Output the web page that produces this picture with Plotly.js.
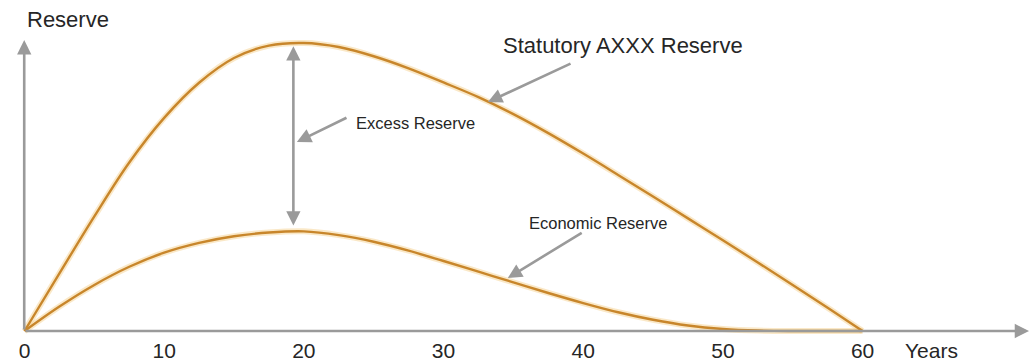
<!DOCTYPE html>
<html>
<head>
<meta charset="utf-8">
<script src="https://cdn.plot.ly/plotly-3.0.1.min.js"></script>
<style>
html,body{margin:0;padding:0;background:#fff;}
#chart{width:1031px;height:362px;}
</style>
</head>
<body>
<div id="chart"></div>
<script>
// Data (years vs. relative reserve level)
const years = [0, 2.5, 5, 7.5, 10, 12.5, 15, 17.5, 20, 22.5, 25, 27.5, 30, 32.5, 35, 37.5, 40, 42.5, 45, 47.5, 50, 52.5, 55, 57.5, 60];
const statutoryReserve = [0, 20, 39.8, 58.5, 74, 86.2, 94.8, 99.1, 100, 98.6, 95.4, 91.2, 86.3, 81.2, 75.3, 68.7, 61.6, 54.2, 46.7, 39.1, 31.5, 23.8, 16.0, 8.1, 0];
const economicReserve = [0, 8.5, 16.0, 22.3, 27.2, 30.6, 32.9, 34.2, 34.6, 33.3, 31.0, 27.9, 24.3, 20.6, 16.9, 13.2, 9.7, 6.5, 3.9, 1.9, 0.7, 0.15, 0, 0, 0];
const tickValues = [0, 10, 20, 30, 40, 50, 60];
const tickLabels = ["0", "10", "20", "30", "40", "50", "60"];
const labels = {
  yTitle: "Reserve",
  xTitle: "Years",
  statutory: "Statutory AXXX Reserve",
  excess: "Excess Reserve",
  economic: "Economic Reserve"
};

const curveColor = "#c8862b";
const glowColor = "rgba(245,205,130,0.45)";
const arrowColor = "#9a9a9a";
const textColor = "#262626";
const fontFam = "Liberation Sans, Arial, Helvetica, sans-serif";

function curve(y, color, width) {
  return {
    x: years, y: y, type: "scatter", mode: "lines",
    line: {color: color, width: width, shape: "spline", smoothing: 1},
    hoverinfo: "skip", showlegend: false, cliponaxis: false
  };
}

const traces = [
  curve(statutoryReserve, glowColor, 6),
  curve(economicReserve, glowColor, 6),
  curve(statutoryReserve, curveColor, 2.4),
  curve(economicReserve, curveColor, 2.4)
];

function arrow(x, y, ax, ay, side) {
  return {
    x: x, y: y, ax: ax, ay: ay, xref: "x", yref: "y", axref: "x", ayref: "y",
    text: "", showarrow: true, arrowhead: 2, startarrowhead: 2, arrowsize: 1.1, startarrowsize: 1.1,
    arrowwidth: 2.6, arrowcolor: arrowColor, arrowside: side || "end"
  };
}
function label(x, y, text, size, yref) {
  return {
    x: x, y: y, xref: "x", yref: yref || "y", text: text, showarrow: false,
    xanchor: "center", yanchor: "middle",
    font: {family: fontFam, size: size, color: textColor}
  };
}

const annotations = [
  // axes as arrows
  arrow(71.92, 0, -0.04, 0),
  arrow(-0.02, 101.0, -0.02, 0),
  // excess reserve double arrow and pointer
  arrow(19.25, 98.9, 19.25, 36.1, "end+start"),
  arrow(19.5, 65.6, 23.16, 74.3),
  // statutory pointer
  arrow(33.18, 79.5, 39.2, 93.06),
  // economic pointer
  arrow(34.6, 18.4, 40.0, 34.4),
  label(3.11, 108.0, labels.yTitle, 22),
  label(42.85, 99.3, labels.statutory, 22),
  label(27.96, 72.2, labels.excess, 16.5),
  label(41.06, 37.5, labels.economic, 16.5),
  label(64.97, -0.048, labels.xTitle, 21, "paper")
];

const layout = {
  width: 1031, height: 362,
  margin: {l: 0, r: 0, t: 0, b: 28, pad: 0},
  paper_bgcolor: "#ffffff", plot_bgcolor: "#ffffff",
  showlegend: false,
  xaxis: {
    range: [-1.754, 72.06], showgrid: false, zeroline: false, showline: false,
    tickmode: "array", tickvals: tickValues, ticktext: tickLabels, ticks: "",
    ticklabelstandoff: 2,
    tickfont: {family: fontFam, size: 21, color: textColor}, fixedrange: true
  },
  yaxis: {
    range: [-1.04, 114.93], visible: false, fixedrange: true
  },
  annotations: annotations
};

Plotly.newPlot("chart", traces, layout, {displayModeBar: false, staticPlot: true});
</script>
</body>
</html>
